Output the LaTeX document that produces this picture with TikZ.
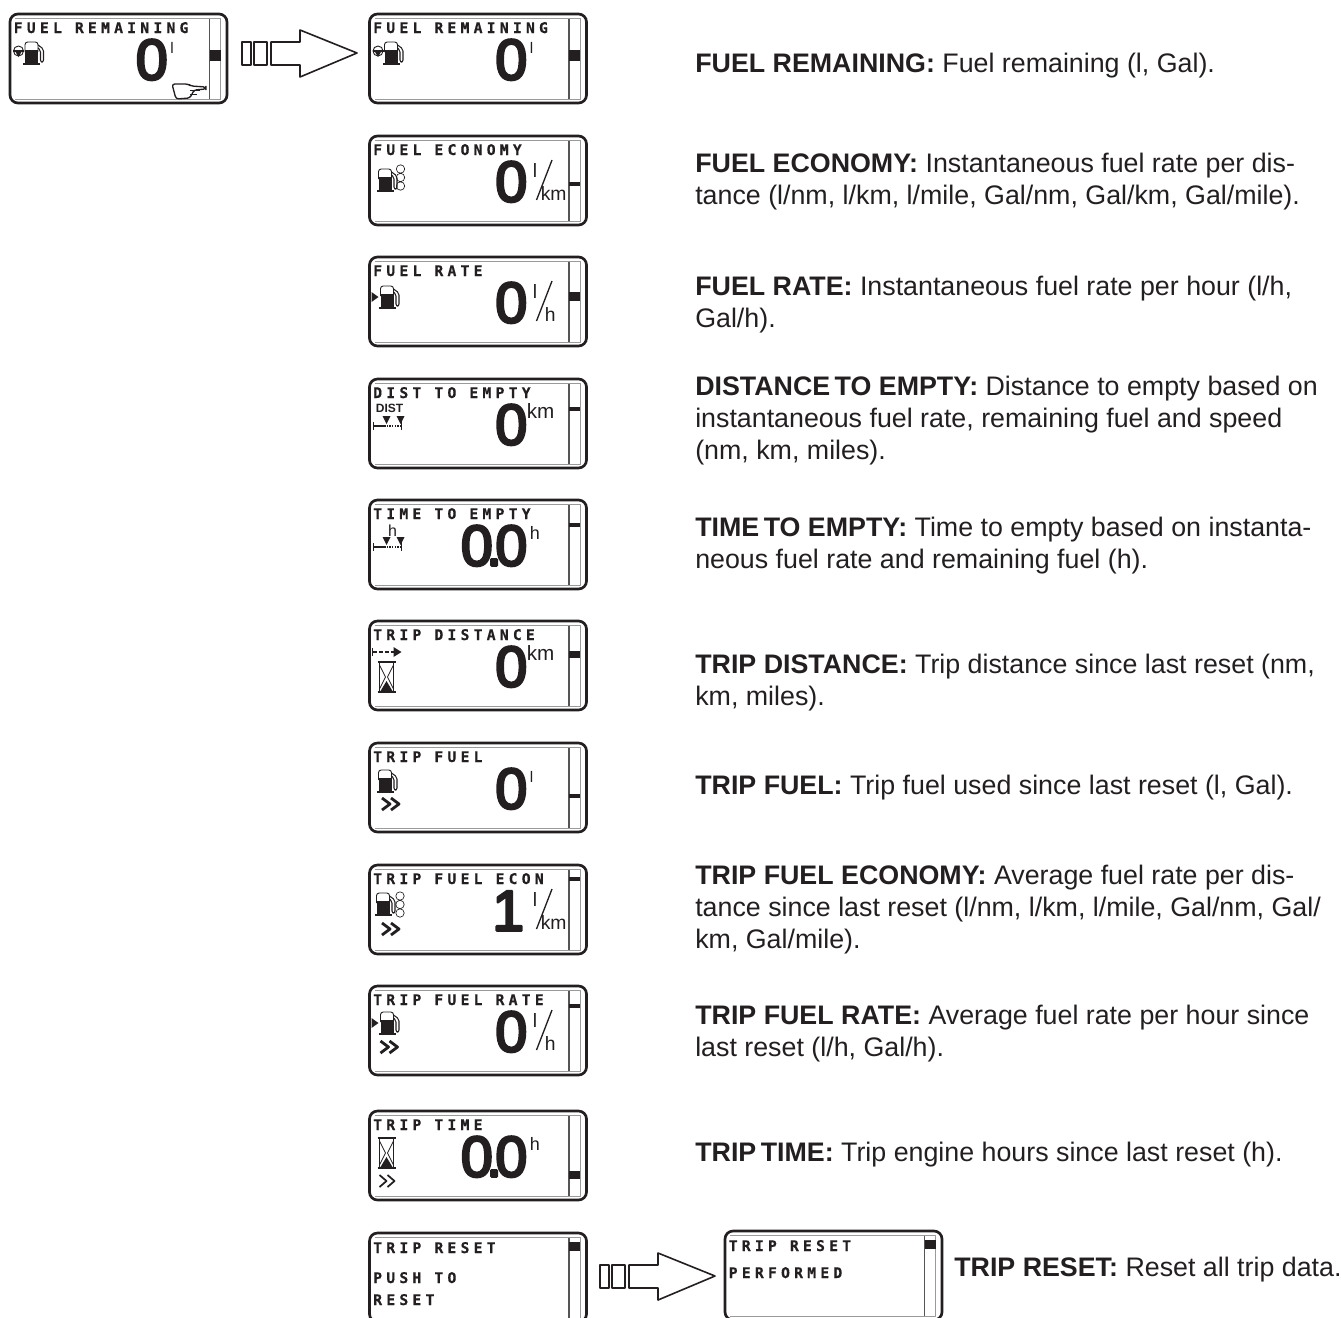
\documentclass[tikz,border=0pt]{standalone}
\usepackage{fontspec}
\setmainfont{Liberation Sans}
\newfontfamily\lcdfont[LetterSpace=29,FakeBold=0.6]{DejaVu Sans Mono Bold}
\newfontfamily\lcdnum[FakeBold=4.5]{Liberation Sans}
\definecolor{lcdblack}{HTML}{231F20}
\definecolor{lcdgrey}{HTML}{9A9A9A}
\definecolor{lcdrule}{HTML}{555555}
% screen frame with scroll bar, args: marker y, marker height
\newcommand{\lcdframe}[2]{
\draw[lcdgrey,line width=0.7pt] (5,4.5) -- (210.5,4.5) -- (210.5,85) -- (5,85);
\draw[lcdrule,line width=0.9pt] (199.5,4.5) -- (199.5,85);
\fill (199.5,#1-#2/2) rectangle (210.5,#1+#2/2);
\draw[line width=2pt,rounded corners=6pt] (0,0) rectangle (217,89);
}
% pump at its top left corner
\newcommand{\pumpicon}[2]{
\begin{scope}[shift={(#1,#2)}]
\draw[line width=0.7pt,rounded corners=2pt] (0,10) -- (0,0) -- (13,0) -- (13,10);
\fill (0,8) rectangle (13,21);
\fill (-2,21) rectangle (15,23);
\draw[line width=0.8pt,rounded corners=1.5pt] (13,3) -- (18.5,7) -- (18.5,20) -- (15.5,20) -- (15.5,8) -- (13,6);
\end{scope}
}
\newcommand{\chevrons}[2]{
\draw[line width=2.1pt] (#1,#2) -- (#1+8,#2+6) -- (#1,#2+12);
\draw[line width=2.1pt] (#1+9,#2) -- (#1+17,#2+6) -- (#1+9,#2+12);
}
\newcommand{\dropicon}{
\draw[line width=0.7pt] (8.5,37) circle (5);
\draw[line width=1.3pt] (3,37) -- (14,37);
\fill (5,37) -- (12,37) -- (8.5,43) -- cycle;
}
\newcommand{\threecircles}[2]{
\draw[line width=0.5pt] (#1,#2) circle (4.2) (#1,#2+8.5) circle (4.2) (#1,#2+17) circle (4.2);
}
\newcommand{\hourglass}[2]{
\begin{scope}[shift={(#1,#2)}]
\draw[line width=1.2pt] (-1,0) -- (17,0) (-1,30) -- (17,30);
\draw[line width=0.5pt] (1,0) -- (1,30) (15,0) -- (15,30);
\draw[line width=0.6pt] (1,3) -- (7,15) -- (1,27) (15,3) -- (9,15) -- (15,27);
\fill (8,19) -- (14,29) -- (2,29) -- cycle;
\end{scope}
}
\newcommand{\rangeicon}[2]{
\begin{scope}[shift={(#1,#2)}]
\draw[line width=0.8pt] (0,6) -- (0,14) (28,2) -- (28,14);
\draw[line width=2pt] (0,10) -- (12,10);
\draw[line width=1.2pt,dash pattern=on 1pt off 1pt] (13,10) -- (27,10);
\fill (9,0) -- (17,0) -- (13,8) -- cycle (23,0) -- (31,0) -- (27,8) -- cycle;
\end{scope}
}
% hollow arrow with its two bars
\newcommand{\pusharrow}[2]{
\begin{scope}[shift={(#1,#2)}]
\draw[line width=1.2pt] (0,-11) rectangle (9,12) (12,-11) rectangle (25,12);
\draw[line width=1.2pt] (58,-11) -- (29,-11) -- (29,12) -- (58,12) -- (58,24) -- (115,0) -- (58,-23) -- cycle;
\end{scope}
}
% l over unit with a slash, args: name, unit, unit x
\newcommand{\fracunit}[3]{
\node[unitlabel,font=\fontsize{14.5}{16}\selectfont] (#1l) at (163,41) {l};
\draw[line width=1pt] (182.5,24) -- (167,64);
\node[unitlabel,font=\fontsize{14.5}{16}\selectfont] (#1u) at (#3,64) {#2};
}
\begin{document}
\begin{tikzpicture}[x=0.75pt,y=-0.75pt,line join=round,color=lcdblack,
lcdtitle/.style={font=\lcdfont\fontsize{11}{12}\selectfont,anchor=base west,inner sep=0pt},
bignum/.style={font=\lcdnum\fontsize{43}{48}\selectfont,anchor=base east,inner sep=0pt},
unitlabel/.style={font=\fontsize{15.5}{18}\selectfont,anchor=base west,inner sep=0pt},
smallunit/.style={unitlabel,font=\fontsize{11.5}{14}\selectfont},
desc/.style={font=\fontsize{20.1}{24}\selectfont,anchor=west,align=left,inner sep=0pt}]
\clip (0,0) rectangle (1341,1317);
% Start screen with the hand
\begin{scope}[shift={(10,14)}]
\lcdframe{41}{11}
\node[lcdtitle] (starttitle) at (3.5,19) {FUEL REMAINING};
\node[bignum] (startval) at (158,65.5) {0};
\node[smallunit] (startunit) at (160,39) {l};
\pumpicon{15}{28}
\dropicon
\draw[line width=1pt,rounded corners=2pt] (162,70) -- (178,70) -- (181,72) -- (196,73) -- (196,75) -- (184,76) -- (180,84) -- (166,85) -- cycle;
\draw[line width=0.7pt] (180,76) -- (190,76) (180,80) -- (187,80);
\end{scope}
\pusharrow{242}{53}
% Row 1: fuel remaining
\begin{scope}[shift={(369.5,14)}]
\lcdframe{41}{11}
\node[lcdtitle] (remtitle) at (3.5,19) {FUEL REMAINING};
\node[bignum] (remval) at (158,65.5) {0};
\node[smallunit] (remunit) at (160,39) {l};
\pumpicon{15}{28}
\dropicon
\end{scope}
\node[desc] (remdesc) at (695,66) {\textbf{FUEL REMAINING:} Fuel remaining (l, Gal).};
% Row 2: fuel economy
\begin{scope}[shift={(369.5,136)}]
\lcdframe{48}{4}
\node[lcdtitle] (econtitle) at (3.5,19) {FUEL ECONOMY};
\node[bignum] (econval) at (158,65.5) {0};
\fracunit{econ}{km}{171}
\pumpicon{9}{33}
\threecircles{31}{33}
\end{scope}
\node[desc] (econdesc) at (695,182) {\textbf{FUEL ECONOMY:} Instantaneous fuel rate per dis-\\tance (l/nm, l/km, l/mile, Gal/nm, Gal/km, Gal/mile).};
% Row 3: fuel rate
\begin{scope}[shift={(369.5,257)}]
\lcdframe{39}{9}
\node[lcdtitle] (ratetitle) at (3.5,19) {FUEL RATE};
\node[bignum] (rateval) at (158,65.5) {0};
\fracunit{rate}{h}{175}
\pumpicon{11}{29}
\fill (2,35) -- (9,40) -- (2,45) -- cycle;
\end{scope}
\node[desc] (ratedesc) at (695,305) {\textbf{FUEL RATE:} Instantaneous fuel rate per hour (l/h,\\Gal/h).};
% Row 4: distance to empty
\begin{scope}[shift={(369.5,379)}]
\lcdframe{30}{4}
\node[lcdtitle] (disttitle) at (3.5,19) {DIST TO EMPTY};
\node[bignum] (distval) at (158,65.5) {0};
\node[unitlabel] (distunit) at (157,39) {km};
\node[font=\bfseries\fontsize{9}{10}\selectfont,inner sep=0pt] (disticon) at (20,29) {DIST};
\rangeicon{4}{37}
\end{scope}
\node[desc] (distdesc) at (695,421) {\textbf{DISTANCE\,TO EMPTY:} Distance to empty based on\\instantaneous fuel rate, remaining fuel and speed\\(nm, km, miles).};
% Row 5: time to empty
\begin{scope}[shift={(369.5,500)}]
\lcdframe{25}{4}
\node[lcdtitle] (timetitle) at (3.5,19) {TIME TO EMPTY};
\node[bignum] (timeval) at (158,65.5) {0\kern-5pt.\kern-5pt0};
\node[unitlabel,font=\fontsize{13.5}{16}\selectfont] (timeunit) at (160,39) {h};
\node[font=\fontsize{12}{13}\selectfont,inner sep=0pt] (timeicon) at (23,31) {h};
\rangeicon{4}{37}
\end{scope}
\node[desc] (timedesc) at (695,546) {\textbf{TIME\,TO EMPTY:} Time to empty based on instanta-\\neous fuel rate and remaining fuel (h).};
% Row 6: trip distance
\begin{scope}[shift={(369.5,621)}]
\lcdframe{33}{7}
\node[lcdtitle] (tdisttitle) at (3.5,19) {TRIP DISTANCE};
\node[bignum] (tdistval) at (158,65.5) {0};
\node[unitlabel] (tdistunit) at (157,39) {km};
\draw[line width=1.2pt,dash pattern=on 3pt off 1.5pt] (3,31) -- (24,31);
\fill (24,26) -- (32,31) -- (24,36) -- cycle;
\draw[line width=0.8pt] (3,27) -- (3,35);
\hourglass{9}{41}
\end{scope}
\node[desc] (tdistdesc) at (695,683) {\textbf{TRIP DISTANCE:} Trip distance since last reset (nm,\\km, miles).};
% Row 7: trip fuel
\begin{scope}[shift={(369.5,743)}]
\lcdframe{53}{4}
\node[lcdtitle] (tfueltitle) at (3.5,19) {TRIP FUEL};
\node[bignum] (tfuelval) at (158,65.5) {0};
\node[smallunit] (tfuelunit) at (160,39) {l};
\pumpicon{9}{27}
\chevrons{12.5}{55}
\end{scope}
\node[desc] (tfueldesc) at (695,788) {\textbf{TRIP FUEL:} Trip fuel used since last reset (l, Gal).};
% Row 8: trip fuel economy
\begin{scope}[shift={(369.5,865)}]
\lcdframe{14}{4}
\node[lcdtitle] (tecontitle) at (3.5,19) {TRIP FUEL ECON};
\node[bignum] (teconval) at (155,65.5) {1};
\fracunit{tecon}{km}{171}
\pumpicon{7}{28}
\threecircles{30.5}{31}
\chevrons{12.5}{58}
\end{scope}
\node[desc] (tecondesc) at (695,910) {\textbf{TRIP FUEL ECONOMY:} Average fuel rate per dis-\\tance since last reset (l/nm, l/km, l/mile, Gal/nm, Gal/\\km, Gal/mile).};
% Row 9: trip fuel rate
\begin{scope}[shift={(369.5,986)}]
\lcdframe{20}{4}
\node[lcdtitle] (tratetitle) at (3.5,19) {TRIP FUEL RATE};
\node[bignum] (trateval) at (158,65.5) {0};
\fracunit{trate}{h}{175}
\pumpicon{11}{26}
\fill (2,32) -- (9,37) -- (2,42) -- cycle;
\chevrons{11}{55}
\end{scope}
\node[desc] (tratedesc) at (695,1034) {\textbf{TRIP FUEL RATE:} Average fuel rate per hour since\\last reset (l/h, Gal/h).};
% Row 10: trip time
\begin{scope}[shift={(369.5,1111)}]
\lcdframe{64}{8}
\node[lcdtitle] (ttimetitle) at (3.5,19) {TRIP TIME};
\node[bignum] (ttimeval) at (158,65.5) {0\kern-5pt.\kern-5pt0};
\node[unitlabel,font=\fontsize{13.5}{16}\selectfont] (ttimeunit) at (160,39) {h};
\hourglass{9}{27}
\draw[line width=1.3pt] (10,64) -- (17,70) -- (10,76) (18,64) -- (25,70) -- (18,76);
\end{scope}
\node[desc] (ttimedesc) at (695,1155) {\textbf{TRIP\,TIME:} Trip engine hours since last reset (h).};
% Row 11: trip reset, cropped at the bottom
\begin{scope}[shift={(369.5,1233)}]
\lcdframe{13}{9}
\node[lcdtitle] (resettitle) at (3.5,20) {TRIP RESET};
\node[lcdtitle] (pushtext) at (3.5,50) {PUSH TO};
\node[lcdtitle] (resettext) at (3.5,72) {RESET};
\end{scope}
\pusharrow{600}{1276}
\begin{scope}[shift={(725,1231)}]
\lcdframe{13}{9}
\node[lcdtitle] (donetitle) at (3.5,20) {TRIP RESET};
\node[lcdtitle] (donetext) at (3.5,47) {PERFORMED};
\end{scope}
\node[desc] (resetdesc) at (954,1270) {\textbf{TRIP RESET:} Reset all trip data.};
\end{tikzpicture}
\end{document}
